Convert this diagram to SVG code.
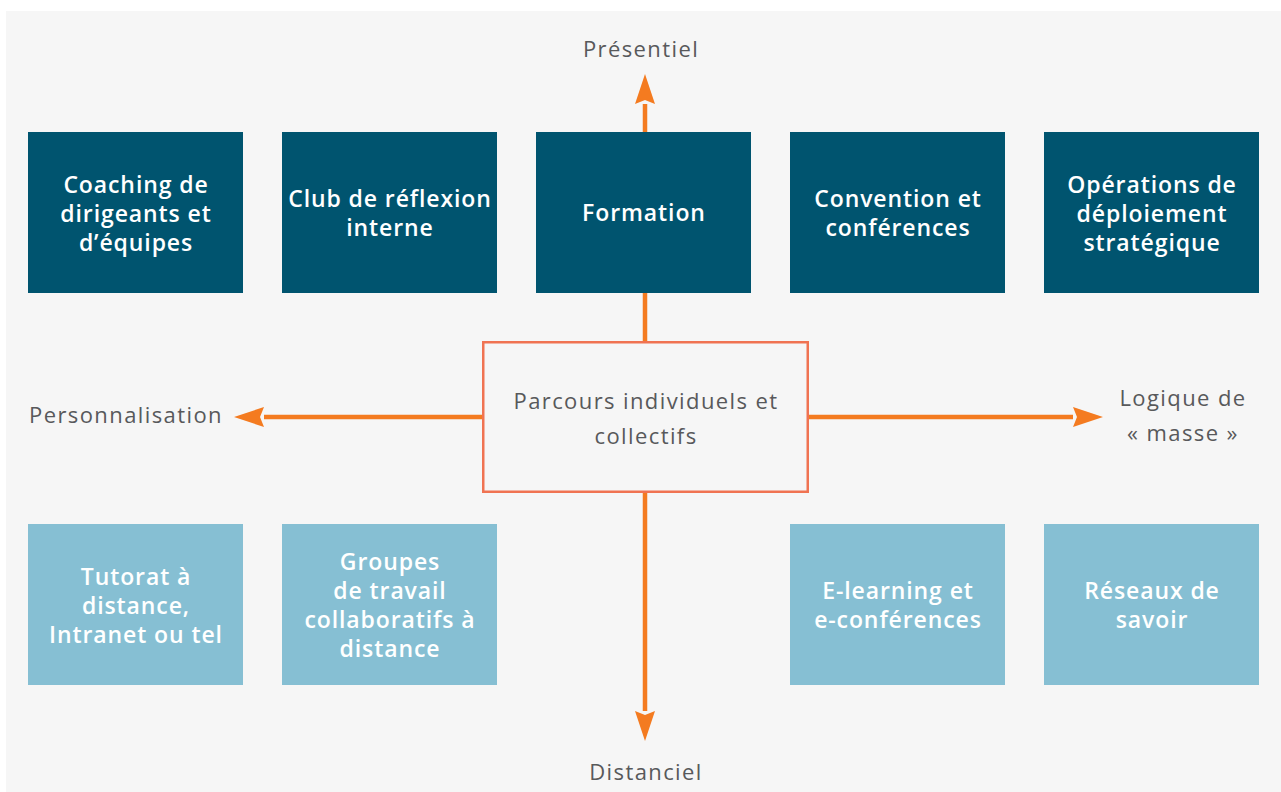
<svg xmlns="http://www.w3.org/2000/svg" width="1281" height="792" viewBox="0 0 1281 792">
<style>
.dark{fill:#00546f}
.light{fill:#86bfd3}
.bt{font-family:"Open Sans","Liberation Sans",sans-serif;font-size:23px;font-weight:600;letter-spacing:0.9px;fill:#ffffff;text-anchor:middle}
.lbl{font-family:"Open Sans","Liberation Sans",sans-serif;font-size:22px;letter-spacing:1.4px;fill:#58595b;text-anchor:middle}
.ax{stroke:#f47b20;stroke-width:4.5;fill:none}
</style>
<defs>
<marker id="ah" viewBox="0 0 30 20" refX="0" refY="10" markerWidth="30" markerHeight="20" markerUnits="userSpaceOnUse" orient="auto">
<path d="M0,0 L30,10 L0,20 L4,10 Z" fill="#f47b20"/>
</marker>
</defs>
<rect x="0" y="0" width="1281" height="792" fill="#ffffff"/>
<rect x="6" y="11" width="1275" height="781" fill="#f6f6f6"/>
<g id="connectors">
<line class="ax" x1="645" y1="342" x2="645" y2="104" marker-end="url(#ah)"/>
<line class="ax" x1="645" y1="492" x2="645" y2="711" marker-end="url(#ah)"/>
<line class="ax" x1="483" y1="417" x2="264" y2="417" marker-end="url(#ah)"/>
<line class="ax" x1="808" y1="417" x2="1073" y2="417" marker-end="url(#ah)"/>
</g>
<g id="n-coaching"><rect class="dark" x="28" y="132" width="215" height="161"/><text class="bt" x="136" y="193">Coaching de</text><text class="bt" x="136" y="222">dirigeants et</text><text class="bt" x="136" y="251">d’équipes</text></g>
<g id="n-club"><rect class="dark" x="282" y="132" width="215" height="161"/><text class="bt" x="390" y="207">Club de réflexion</text><text class="bt" x="390" y="236">interne</text></g>
<g id="n-formation"><rect class="dark" x="536" y="132" width="215" height="161"/><text class="bt" x="644" y="221">Formation</text></g>
<g id="n-convention"><rect class="dark" x="790" y="132" width="215" height="161"/><text class="bt" x="898" y="207">Convention et</text><text class="bt" x="898" y="236">conférences</text></g>
<g id="n-operations"><rect class="dark" x="1044" y="132" width="215" height="161"/><text class="bt" x="1152" y="193">Opérations de</text><text class="bt" x="1152" y="222">déploiement</text><text class="bt" x="1152" y="251">stratégique</text></g>
<g id="n-tutorat"><rect class="light" x="28" y="524" width="215" height="161"/><text class="bt" x="136" y="585">Tutorat à</text><text class="bt" x="136" y="614">distance,</text><text class="bt" x="136" y="643">Intranet ou tel</text></g>
<g id="n-groupes"><rect class="light" x="282" y="524" width="215" height="161"/><text class="bt" x="390" y="570">Groupes</text><text class="bt" x="390" y="599">de travail</text><text class="bt" x="390" y="628">collaboratifs à</text><text class="bt" x="390" y="657">distance</text></g>
<g id="n-elearning"><rect class="light" x="790" y="524" width="215" height="161"/><text class="bt" x="898" y="599">E-learning et</text><text class="bt" x="898" y="628">e-conférences</text></g>
<g id="n-reseaux"><rect class="light" x="1044" y="524" width="215" height="161"/><text class="bt" x="1152" y="599">Réseaux de</text><text class="bt" x="1152" y="628">savoir</text></g>
<g id="n-center"><rect x="483.25" y="342.25" width="324.5" height="149.5" fill="#f6f6f6" stroke="#f07352" stroke-width="2.5"/><text class="lbl" x="646" y="409">Parcours individuels et</text><text class="lbl" x="646" y="444">collectifs</text></g>
<g id="n-presentiel"><text class="lbl" x="641" y="57">Présentiel</text></g>
<g id="n-distanciel"><text class="lbl" x="646" y="780">Distanciel</text></g>
<g id="n-perso"><text class="lbl" x="126" y="423">Personnalisation</text></g>
<g id="n-masse"><text class="lbl" x="1183" y="406">Logique de</text><text class="lbl" x="1183" y="441">« masse »</text></g>
</svg>
